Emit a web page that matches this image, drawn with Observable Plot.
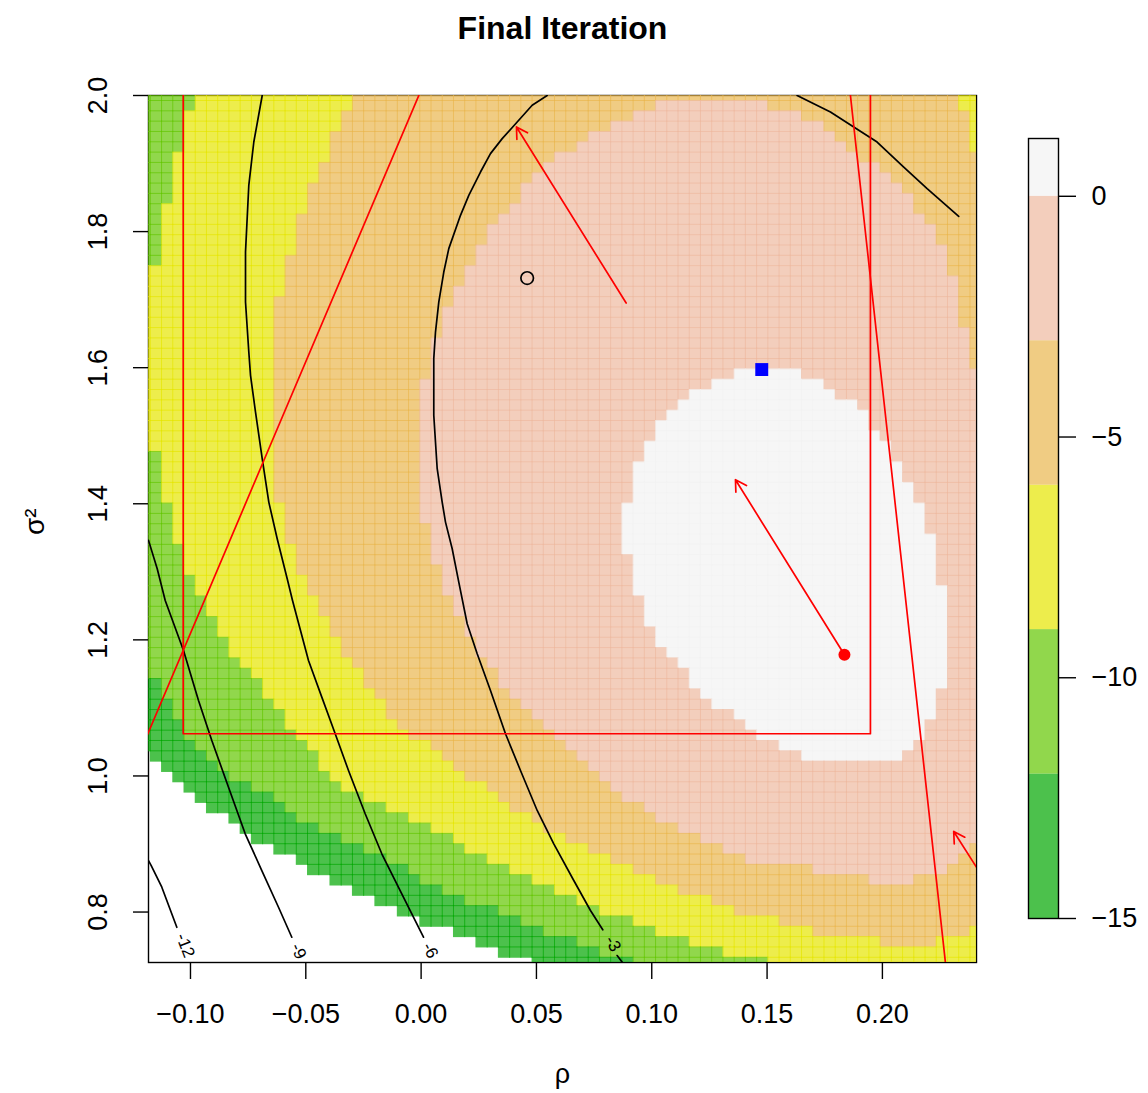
<!DOCTYPE html>
<html><head><meta charset="utf-8">
<script src="https://cdn.jsdelivr.net/npm/d3@7"></script>
<script src="https://cdn.jsdelivr.net/npm/@observablehq/plot@0.6"></script>
<style>
html,body{margin:0;padding:0;background:#fff;}
#wrap{position:relative;width:1148px;height:1093px;overflow:hidden;background:#fff;}
#main{position:absolute;left:0;top:0;}
#key{position:absolute;left:1000px;top:0;}
svg{display:block;}
</style></head><body><div id="wrap"><div id="main"></div><div id="key"></div></div>
<script>
// ---------- axis limits and ticks ----------
const rhoLimits = [-0.1182, 0.2408];
const sigmaLimits = [0.72585, 2.0];
const rhoTicks = [-0.10, -0.05, 0.00, 0.05, 0.10, 0.15, 0.20];
const sigmaTicks = [0.8, 1.0, 1.2, 1.4, 1.6, 1.8, 2.0];

// ---------- image grid (cell edges) ----------
const rhoCellStart = -0.122058, rhoCellStep = 0.004868, nCols = 75;
const sigmaCellTop = 2.00709, sigmaCellStep = 0.01517, nRows = 85;

// ---------- filled bands: [rowFrom, rowTo, colFrom, colTo] where level >= band ----------
const band1Runs = [[0,63,0,74],[64,64,1,74],[65,65,2,74],[66,66,3,74],[67,67,4,74],[68,68,5,74],[69,69,6,74],[70,70,8,74],[71,71,9,74],[72,72,10,74],[73,73,12,74],[74,74,14,74],[75,75,15,74],[76,76,17,74],[77,77,19,74],[78,78,21,74],[79,79,23,74],[80,80,25,74],[81,81,28,74],[82,82,30,74],[83,83,32,74],[84,84,35,74]];
const band2Runs = [[0,56,0,74],[57,58,2,74],[59,60,3,74],[61,62,4,74],[63,63,5,74],[64,64,6,74],[65,65,7,74],[66,66,8,74],[67,67,10,74],[68,68,12,74],[69,69,13,74],[70,70,14,74],[71,71,16,74],[72,72,18,74],[73,73,20,74],[74,74,22,74],[75,75,24,74],[76,76,25,74],[77,77,27,74],[78,78,29,74],[79,79,32,74],[80,80,34,74],[81,81,36,74],[82,82,39,74],[83,83,41,74],[84,84,44,74]];
const band3Runs = [[0,1,5,74],[2,5,4,74],[6,10,3,74],[11,16,2,74],[17,34,0,74],[35,39,2,74],[40,43,3,74],[44,46,4,74],[47,48,5,74],[49,50,6,74],[51,52,7,74],[53,54,8,74],[55,55,9,74],[56,56,10,74],[57,58,11,74],[59,59,12,74],[60,61,13,74],[62,62,14,74],[63,63,15,74],[64,65,16,74],[66,66,17,74],[67,67,18,74],[68,68,20,74],[69,69,22,74],[70,70,24,74],[71,71,26,74],[72,72,28,74],[73,73,29,74],[74,74,31,74],[75,75,33,74],[76,76,35,74],[77,77,37,74],[78,78,39,74],[79,79,41,74],[80,80,44,74],[81,81,46,74],[82,82,49,74],[83,83,52,74],[84,84,56,74]];
const band4Runs = [[0,1,19,72],[2,3,18,73],[4,5,17,73],[6,6,17,74],[7,8,16,74],[9,11,15,74],[12,15,14,74],[16,19,13,74],[20,39,12,74],[40,43,13,74],[44,46,14,74],[47,48,15,74],[49,50,16,74],[51,52,17,74],[53,54,18,74],[55,55,19,74],[56,57,20,74],[58,58,21,74],[59,60,22,74],[61,61,23,74],[62,62,24,74],[63,63,26,74],[64,64,27,74],[65,65,28,74],[66,66,29,74],[67,67,31,74],[68,68,32,74],[69,69,33,74],[70,70,35,74],[71,71,36,74],[72,72,38,74],[73,73,40,74],[74,74,42,74],[75,75,44,74],[76,76,46,74],[77,77,48,74],[78,78,51,74],[79,79,53,74],[80,80,57,74],[81,81,60,73],[82,82,66,70]];
const band5Runs = [[1,1,46,55],[2,2,44,58],[3,3,42,60],[4,4,40,61],[5,5,39,62],[6,6,37,63],[7,7,36,65],[8,8,35,66],[9,9,34,67],[10,10,34,68],[11,11,33,68],[12,12,32,69],[13,14,31,70],[15,16,30,71],[17,17,29,71],[18,18,29,72],[19,20,28,72],[21,22,27,72],[23,23,27,73],[24,26,26,73],[27,27,26,74],[28,41,25,74],[42,45,26,74],[46,48,27,74],[49,50,28,74],[51,52,29,74],[53,54,30,74],[55,55,31,74],[56,57,32,74],[58,58,33,74],[59,59,34,74],[60,60,35,74],[61,61,36,74],[62,62,37,74],[63,63,38,74],[64,64,39,74],[65,65,40,74],[66,66,41,74],[67,67,42,74],[68,68,43,74],[69,69,45,74],[70,70,46,74],[71,71,48,74],[72,72,50,74],[73,73,52,73],[74,74,54,72],[75,75,60,71],[76,76,65,68]];
const band6Runs = [[27,27,53,58],[28,28,51,60],[29,29,49,61],[30,30,48,63],[31,31,47,64],[32,32,46,64],[33,33,46,65],[34,35,45,66],[36,37,44,67],[38,39,44,68],[40,42,43,69],[43,44,43,70],[45,47,44,70],[48,48,44,71],[49,51,45,71],[52,53,46,71],[54,54,47,71],[55,55,48,71],[56,57,49,71],[58,58,50,70],[59,59,51,70],[60,60,53,70],[61,61,54,69],[62,62,55,69],[63,63,57,68],[64,64,59,67]];

// ---------- key ----------
const keyLevels = [-15, -12, -9, -6, -3, 0, 1.2];
const keyTicks = [-15, -10, -5, 0];

// ---------- contour lines [rho, sigma2] ----------
const contourM3a = [[0.05465,2.0],[0.04815,1.98559],[0.04165,1.96105],[0.03515,1.93665],[0.03007,1.91460],[0.02574,1.88755],[0.02067,1.85330],[0.01707,1.82390],[0.01200,1.77495],[0.00983,1.74055],[0.00766,1.69645],[0.00623,1.65235],[0.00549,1.61325],[0.00549,1.57400],[0.00549,1.52990],[0.00697,1.45155],[0.00913,1.40245],[0.01057,1.37305],[0.01347,1.33395],[0.01633,1.28485],[0.01997,1.22370],[0.02431,1.17960],[0.03007,1.12565],[0.03658,1.06200],[0.04308,1.00805],[0.05032,0.94925],[0.05752,0.90030],[0.06619,0.84635],[0.07343,0.80225],[0.07876,0.77388]];
const contourM3b = [[0.0850,0.73609],[0.0886,0.71992]];
const contourM6 = [[-0.06890,2.0],[-0.07254,1.93165],[-0.07471,1.86800],[-0.07614,1.76995],[-0.07614,1.69645],[-0.07471,1.62295],[-0.07397,1.58870],[-0.07180,1.53475],[-0.06890,1.46625],[-0.06604,1.40245],[-0.06240,1.34865],[-0.05806,1.28985],[-0.05576,1.25795],[-0.04883,1.16975],[-0.04306,1.11580],[-0.03725,1.06200],[-0.03149,1.00805],[-0.02425,0.94440],[-0.01705,0.88560],[-0.00838,0.82680],[0.00103,0.76300]];
const contourM9 = [[-0.11819,1.34615],[-0.11442,1.30455],[-0.11095,1.25795],[-0.10302,1.18440],[-0.09652,1.11090],[-0.09075,1.05210],[-0.08351,0.98345],[-0.07627,0.91495],[-0.06907,0.86100],[-0.06183,0.80705],[-0.05607,0.76300]];
const contourM12 = [[-0.11819,0.87570],[-0.11702,0.86835],[-0.11242,0.83645],[-0.10592,0.77765]];
const contourTop = [[0.16303,2.0],[0.17747,1.97575],[0.18757,1.95370],[0.19771,1.93165],[0.20925,1.89490],[0.21939,1.86315],[0.23309,1.82243]];
const contourLabelText = ["-12", "-9", "-6", "-3"];
const contourLabelRho = [-0.10228, -0.05316, 0.00393, 0.08318];
const contourLabelSigma = [0.75084, 0.74232, 0.74350, 0.75335];

// ---------- red constraint lines [rho, sigma2] ----------
const redBox = [[-0.10315,2.05],[-0.10315,1.0620],[0.19481,1.0620],[0.19481,2.05]];
const redDiagonal = [[-0.125,1.0101],[0.002,2.024]];
const redSteep = [[0.18517,2.03],[0.22816,0.70]];

// ---------- arrows: from -> to ----------
const arrowFromRho = [0.08890, 0.18354, 0.25117];
const arrowFromSigma = [1.69499, 1.17815, 0.81052];
const arrowToRho = [0.04134, 0.13629, 0.23092];
const arrowToSigma = [1.95370, 1.43540, 0.91841];

// ---------- points ----------
const redPoint = [0.18354, 1.17815];
const bluePoint = [0.14769, 1.59724];
const openPoint = [0.04598, 1.73174];

// ================= build =================
const baseColors = ["#00A600", "#63C600", "#E6E600", "#EAB64E", "#EEB99F", "#F2F2F2"];
const colorScale = {type: "ordinal", domain: [1,2,3,4,5,6], range: baseColors};
const font = '"Liberation Sans", Arial, Helvetica, sans-serif';

const grid = Array.from({length: nRows}, () => new Array(nCols).fill(0));
[band1Runs, band2Runs, band3Runs, band4Runs, band5Runs, band6Runs].forEach((runs, k) => {
  for (const [r0, r1, c0, c1] of runs)
    for (let r = r0; r <= r1; r++)
      for (let c = c0; c <= c1; c++) grid[r][c] = k + 1;
});
const cells = [];
for (let r = 0; r < nRows; r++) for (let c = 0; c < nCols; c++) {
  const lv = grid[r][c];
  if (!lv) continue;
  cells.push({
    x1: rhoCellStart + c * rhoCellStep, x2: rhoCellStart + (c + 1) * rhoCellStep,
    y1: sigmaCellTop - (r + 1) * sigmaCellStep, y2: sigmaCellTop - r * sigmaCellStep,
    level: lv
  });
}
const toPts = (arr, id) => arr.map(([x, y]) => ({x, y, id}));
const contourPts = [
  ...toPts(contourM3a, "m3a"), ...toPts(contourM3b, "m3b"), ...toPts(contourM6, "m6"),
  ...toPts(contourM9, "m9"), ...toPts(contourM12, "m12"), ...toPts(contourTop, "top")
];
const redPts = [...toPts(redBox, "box"), ...toPts(redDiagonal, "diag"), ...toPts(redSteep, "steep")];
const labelAngle = {"-12": 69, "-9": 66, "-6": 63, "-3": 61};
const labels = contourLabelText.map((t, i) => ({t, x: contourLabelRho[i], y: contourLabelSigma[i]}));
const arrows = arrowFromRho.map((_, i) => ({x1: arrowFromRho[i], y1: arrowFromSigma[i], x2: arrowToRho[i], y2: arrowToSigma[i]}));

const main = Plot.plot({
  width: 1000, height: 1093,
  marginLeft: 148, marginRight: 24, marginTop: 95, marginBottom: 131,
  x: {domain: rhoLimits},
  y: {domain: sigmaLimits},
  color: colorScale,
  style: {fontFamily: font, background: "white", color: "black"},
  marks: [
    Plot.frame({stroke: "black", strokeWidth: 1.4}),
    Plot.rect(cells, {x1: "x1", x2: "x2", y1: "y1", y2: "y2", fill: "level", fillOpacity: 0.7, inset: -0.5, clip: true}),
    Plot.line(contourPts, {x: "x", y: "y", z: "id", stroke: "black", strokeWidth: 1.7, clip: true}),
    Plot.line(redPts, {x: "x", y: "y", z: "id", stroke: "#FF0000", strokeWidth: 1.7, clip: true}),
    Plot.arrow(arrows, {x1: "x1", y1: "y1", x2: "x2", y2: "y2", stroke: "#FF0000", strokeWidth: 1.7, headLength: 11, headAngle: 60, clip: true}),
    Plot.dot([redPoint], {x: d => d[0], y: d => d[1], r: 6, fill: "#FF0000", stroke: null}),
    Plot.dot([bluePoint], {x: d => d[0], y: d => d[1], r: 7.3, symbol: "square", fill: "#0000FF", stroke: null}),
    Plot.dot([openPoint], {x: d => d[0], y: d => d[1], r: 6.3, fill: "none", stroke: "black", strokeWidth: 1.7}),
    Plot.text(labels, {x: "x", y: "y", text: "t", rotate: d => labelAngle[d.t], fontSize: 17, fill: "black"}),
    Plot.axisX({ticks: rhoTicks, tickFormat: d3.format(".2f"), tickSize: 17, tickPadding: 24, fontSize: 27, strokeWidth: 1.4, label: null}),
    Plot.axisY({ticks: sigmaTicks, tickFormat: d3.format(".1f"), tickRotate: -90, tickSize: 15, tickPadding: 27, fontSize: 27, strokeWidth: 1.4, label: null}),
    Plot.text(["Final Iteration"], {text: d => d, frameAnchor: "top", dy: -57, lineAnchor: "bottom", fontSize: 32, fontWeight: "bold"}),
    Plot.text(["ρ"], {text: d => d, frameAnchor: "bottom", dy: 120, fontSize: 27}),
    Plot.text(["σ²"], {text: d => d, frameAnchor: "left", dx: -113, dy: 6, rotate: -90, fontSize: 28})
  ]
});
document.getElementById("main").appendChild(main);

const keyBands = keyLevels.slice(1).map((hi, i) => ({lo: keyLevels[i], hi, level: i + 1}));
const key = Plot.plot({
  width: 148, height: 1093,
  marginTop: 138, marginBottom: 175, marginLeft: 28, marginRight: 90,
  x: {domain: [0, 1], axis: null},
  y: {domain: [keyLevels[0], keyLevels[keyLevels.length - 1]]},
  color: colorScale,
  style: {fontFamily: font, background: "white", color: "black"},
  marks: [
    Plot.rect(keyBands, {x1: 0, x2: 1, y1: "lo", y2: "hi", fill: "level", fillOpacity: 0.7}),
    Plot.frame({stroke: "black", strokeWidth: 1.4}),
    Plot.axisY({anchor: "right", ticks: keyTicks, tickFormat: d3.format("d"), tickSize: 17, tickPadding: 16, fontSize: 27, strokeWidth: 1.4, label: null})
  ]
});
document.getElementById("key").appendChild(key);
</script></body></html>
